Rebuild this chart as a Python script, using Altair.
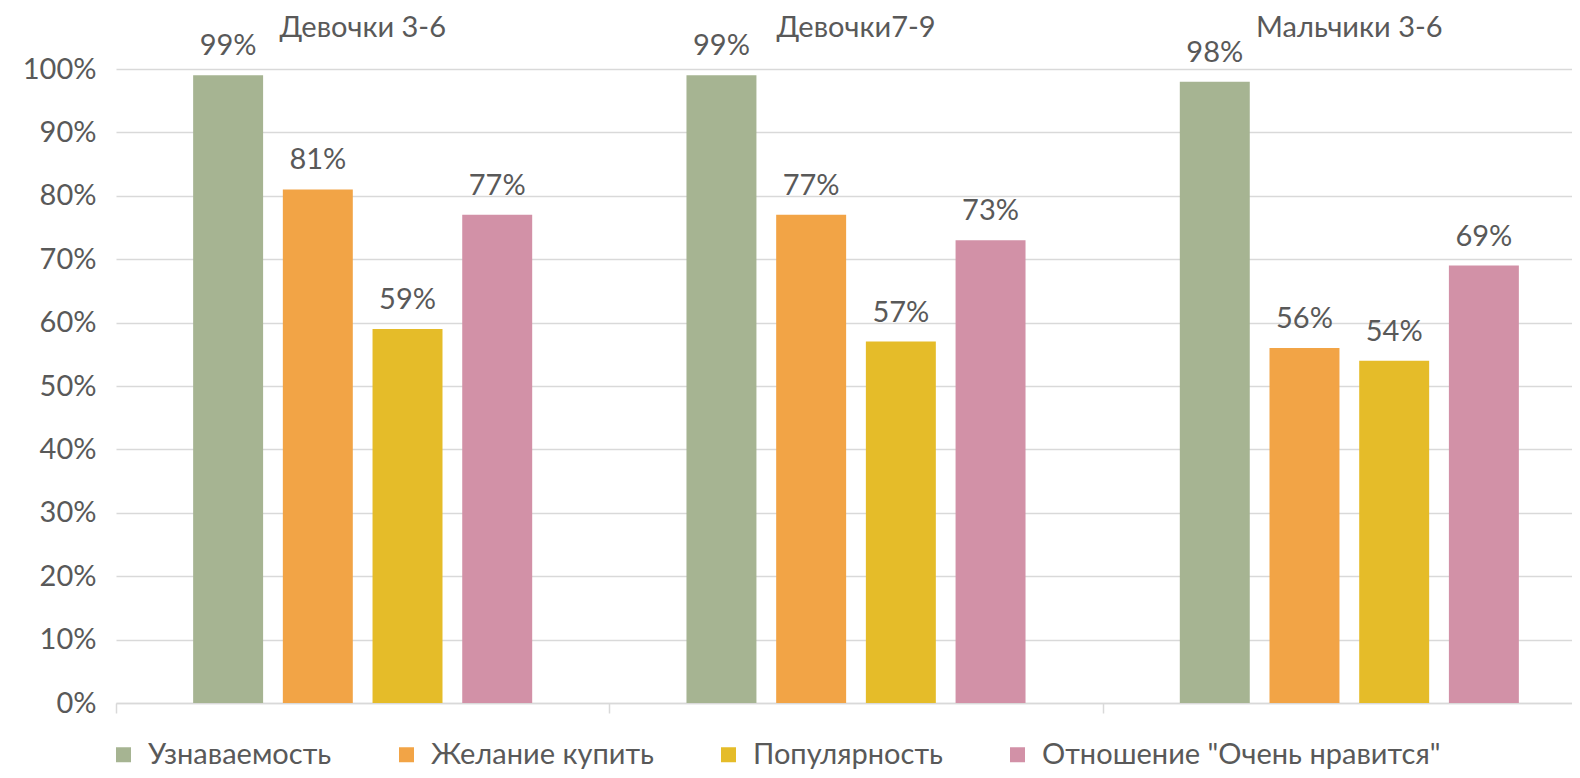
import altair as alt
import pandas as pd

groups = ["Девочки 3-6", "Девочки7-9", "Мальчики 3-6"]
series = ["Узнаваемость", "Желание купить", "Популярность", 'Отношение "Очень нравится"']
colors = ["#A6B492", "#F2A446", "#E5BC29", "#D291A7"]
values = {
    "Девочки 3-6": [0.99, 0.81, 0.59, 0.77],
    "Девочки7-9": [0.99, 0.77, 0.57, 0.73],
    "Мальчики 3-6": [0.98, 0.56, 0.54, 0.69],
}

rows = []
for g in groups:
    for s, v in zip(series, values[g]):
        rows.append({"group": g, "series": s, "value": v})
df = pd.DataFrame(rows)
gdf = pd.DataFrame({"group": groups})

FONT = "Lato"
TXT = "#595959"
FS = 29

x_enc = alt.X("group:N", sort=groups,
              scale=alt.Scale(paddingInner=0, paddingOuter=0, range=[0, 1480]),
              axis=alt.Axis(labels=False, title=None, domainColor="#D9D9D9", domainWidth=1.5,
                            tickColor="#D9D9D9", tickWidth=1.5, tickSize=10, tickBand="extent",
                            grid=False))
xoff = alt.XOffset("series:N", sort=series,
                   scale=alt.Scale(paddingInner=0.22, paddingOuter=0.86))
y_enc = alt.Y("value:Q", scale=alt.Scale(domain=[0, 1], nice=False),
              axis=alt.Axis(values=[i / 10 for i in range(11)], format=".0%", title=None,
                            domain=False, ticks=False, labelPadding=20,
                            gridColor="#D9D9D9", gridWidth=1.3,
                            labelFont=FONT, labelFontSize=FS, labelColor=TXT))

bars = alt.Chart(df).mark_bar().encode(
    x=x_enc, xOffset=xoff, y=y_enc,
    color=alt.Color("series:N", sort=series,
                    scale=alt.Scale(domain=series, range=colors),
                    legend=alt.Legend(title=None, orient="none", direction="horizontal",
                                      legendX=-7, legendY=671, padding=0,
                                      symbolType="square", symbolSize=225, symbolStrokeWidth=0,
                                      symbolOpacity=1,
                                      labelFont=FONT, labelFontSize=FS, labelColor=TXT,
                                      labelOffset=10, columnPadding=60,
                                      labelLimit=600)),
)

labels = alt.Chart(df).mark_text(font=FONT, fontSize=FS, color=TXT, baseline="alphabetic",
                                 dy=-20).encode(
    x=alt.X("group:N", sort=groups), xOffset=alt.XOffset("series:N", sort=series),
    y="value:Q", text=alt.Text("value:Q", format=".0%"))

titles = alt.Chart(gdf).mark_text(font=FONT, fontSize=FS, color=TXT, baseline="middle",
                                  align="center").encode(
    x=alt.X("group:N", sort=groups), y=alt.value(-41), text="group:N")

chart = alt.layer(bars, labels, titles).properties(
    width=1456, height=634,
    autosize=alt.AutoSizeParams(type="none"),
    padding={"left": 108, "top": 61, "right": 0, "bottom": 67},
).configure_view(stroke=None)

chart.save("out.html", embed_options={"renderer": "svg", "actions": False})
